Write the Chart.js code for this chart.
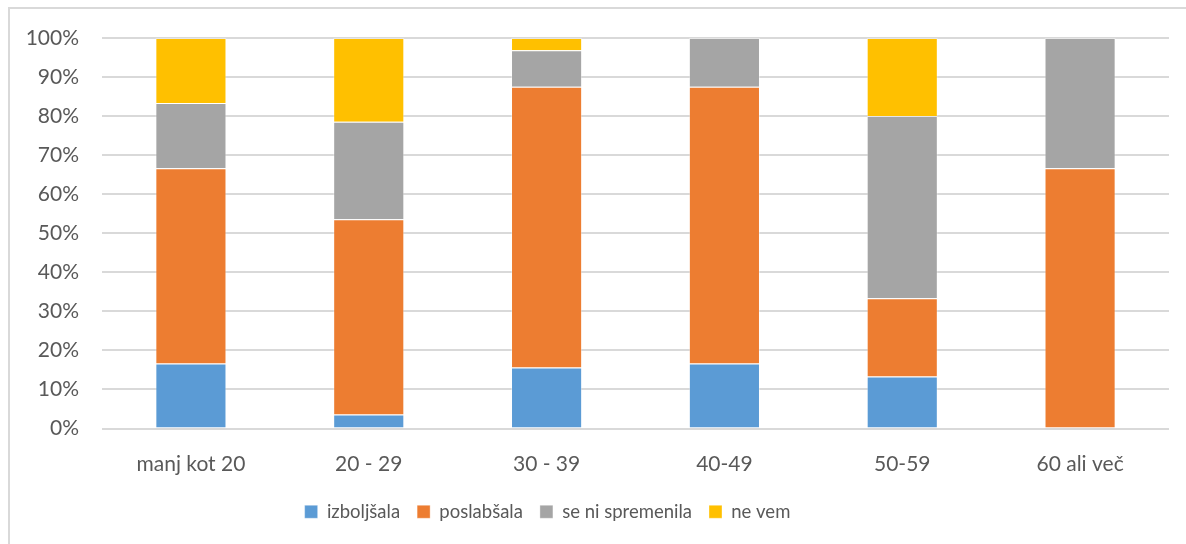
<!DOCTYPE html>
<html>
<head>
<meta charset="utf-8">
<script src="https://cdn.jsdelivr.net/npm/chart.js@4/dist/chart.umd.min.js"></script>
<style>
html,body{margin:0;padding:0;background:#fff;overflow:hidden;}
#frame{position:absolute;left:8px;top:7px;width:1300px;height:700px;border-top:2px solid #d9d9d9;border-left:2px solid #d9d9d9;}
#wrap{position:absolute;left:0;top:0;width:1186px;height:544px;}
</style>
</head>
<body>
<div id="frame"></div>
<div id="wrap"><canvas id="c" width="1186" height="544"></canvas></div>
<script>
const categories = ["manj kot 20", "20 - 29", "30 - 39", "40-49", "50-59", "60 ali več"];
const izboljsala = [16.67, 3.57, 15.63, 16.67, 13.33, 0];
const poslabsala = [50.0, 50.0, 71.87, 70.83, 20.0, 66.67];
const seNiSpremenila = [16.67, 25.0, 9.38, 12.5, 46.67, 33.33];
const neVem = [16.66, 21.43, 3.12, 0, 20.0, 0];
const seriesNames = ["izboljšala", "poslabšala", "se ni spremenila", "ne vem"];
const colors = ["#5b9bd5", "#ed7d31", "#a5a5a5", "#ffc000"];
const yTicks = [0, 10, 20, 30, 40, 50, 60, 70, 80, 90, 100];

const series = [izboljsala, poslabsala, seNiSpremenila, neVem];
const font = "Lato, 'Open Sans', sans-serif";
const txt = "#595959";

const legendShift = {
  id: 'legendShift',
  afterUpdate(chart) {
    const lg = chart.legend;
    if (!lg) return;
    lg.left -= 37; lg.right -= 37;
    lg.top -= 10; lg.bottom -= 10;
    lg.adjustHitBoxes && lg.adjustHitBoxes();
  }
};

new Chart(document.getElementById('c'), {
  type: 'bar',
  data: {
    labels: categories,
    datasets: series.map((d, i) => ({
      label: seriesNames[i],
      data: d,
      backgroundColor: colors[i],
      borderColor: 'rgba(255,255,255,0.35)',
      borderWidth: 1,
      categoryPercentage: 0.4,
      barPercentage: 1.0
    }))
  },
  plugins: [legendShift],
  options: {
    responsive: false,
    animation: false,
    devicePixelRatio: 1,
    layout: { padding: { left: 0, right: 17, top: 38, bottom: 3 } },
    plugins: {
      tooltip: { enabled: false },
      legend: {
        position: 'bottom',
        labels: {
          color: txt,
          font: { family: font, size: 18.5 },
          boxWidth: 13,
          boxHeight: 13,
          padding: 17
        }
      }
    },
    scales: {
      x: {
        stacked: true,
        grid: { display: false },
        border: { display: false },
        ticks: { color: txt, font: { family: font, size: 21 }, padding: 15 },
        afterFit: s => { s.height = 67; }
      },
      y: {
        stacked: true,
        min: 0, max: 100,
        afterBuildTicks: s => { s.ticks = yTicks.map(v => ({ value: v })); },
        grid: { color: '#d9d9d9', lineWidth: 2, drawTicks: false },
        border: { display: false },
        ticks: {
          color: txt,
          font: { family: font, size: 21 },
          padding: 23,
          callback: v => v + '%'
        },
        afterFit: s => { s.width = 102; }
      }
    }
  }
});
</script>
</body>
</html>
